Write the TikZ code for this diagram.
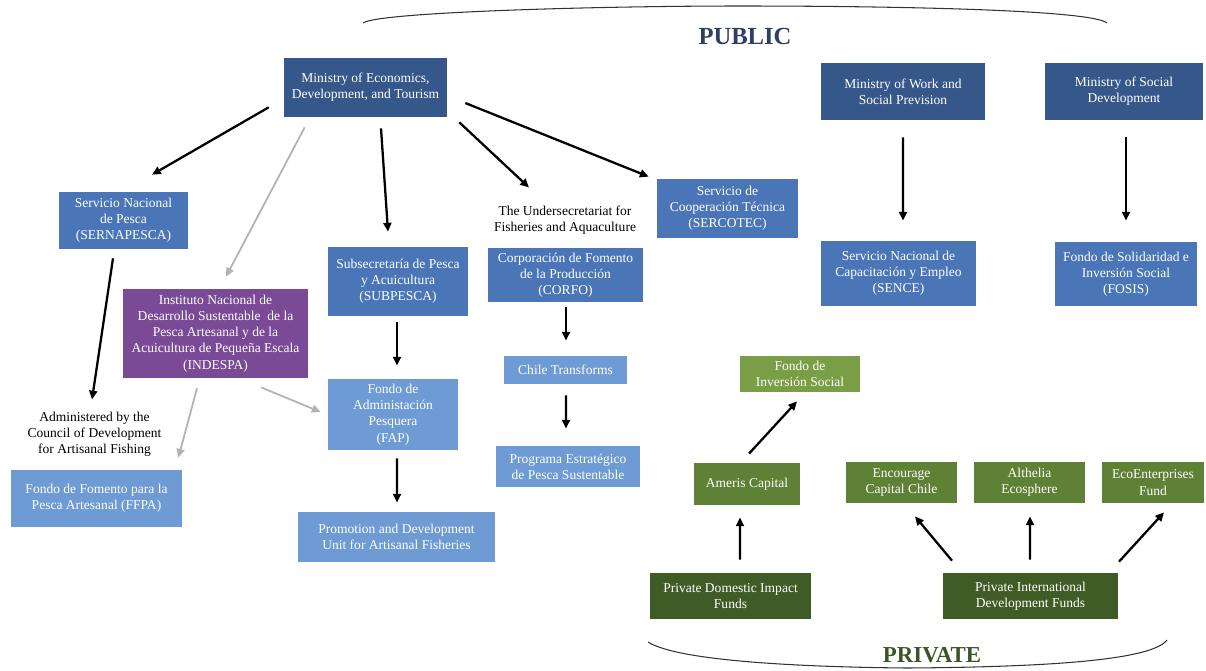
\documentclass[tikz,border=0pt]{standalone}
\usepackage{fontspec}
\setmainfont{Liberation Serif}
\usetikzlibrary{arrows.meta,calc}
\definecolor{navy}{HTML}{36578A}
\definecolor{midblue}{HTML}{4A76B8}
\definecolor{lightblue}{HTML}{6E9BD3}
\definecolor{indespapurple}{HTML}{7A4A97}
\definecolor{lightgreen}{HTML}{7A9E45}
\definecolor{midgreen}{HTML}{5E8136}
\definecolor{darkgreen}{HTML}{405C26}
\definecolor{publictext}{HTML}{2E3F66}
\definecolor{privatetext}{HTML}{3D5426}
\begin{document}
\begin{tikzpicture}[x=0.02cm, y=-0.02cm, font=\fontsize{7.7}{9.2}\selectfont]
	\tikzstyle{block} = [rectangle,align=center,text=white,inner sep=1pt]
	\tikzstyle{arr} = [-{Triangle[length=5pt,width=4.5pt]},line width=1.3pt]
	\tikzstyle{grayarr} = [arr,line width=1pt,draw=gray!60]
	\useasboundingbox (0,0) rectangle (1206,670);
	% public side
	\node[block,fill=navy,minimum width=3.26cm,minimum height=1.18cm](Economy)at(365.5,87.5){Ministry of Economics,\\Development, and Tourism};
	\node[block,fill=navy,minimum width=3.28cm,minimum height=1.16cm](Work)at(903,91.5){Ministry of Work and\\Social Prevision};
	\node[block,fill=navy,minimum width=3.16cm,minimum height=1.16cm](Social)at(1124,91.5){Ministry of Social\\Development};
	\node[block,fill=midblue,minimum width=2.58cm,minimum height=1.14cm](Sernapesca)at(123.5,220.5){Servicio Nacional\\de Pesca\\(SERNAPESCA)};
	\node[block,fill=midblue,minimum width=2.8cm,minimum height=1.38cm](Subpesca)at(398,281.5){Subsecretaría de Pesca\\y Acuicultura\\(SUBPESCA)};
	\node[align=center](under)at(565,220){The Undersecretariat for\\Fisheries and Aquaculture};
	\node[block,fill=midblue,minimum width=3.1cm,minimum height=1.08cm](Corfo)at(565.5,275){Corporación de Fomento\\de la Producción\\(CORFO)};
	\node[block,fill=midblue,minimum width=2.82cm,minimum height=1.18cm](Sercotec)at(727.5,208.5){Servicio de\\Cooperación Técnica\\(SERCOTEC)};
	\node[block,fill=midblue,minimum width=3.1cm,minimum height=1.3cm](Sence)at(898.5,273.5){Servicio Nacional de\\Capacitación y Empleo\\(SENCE)};
	\node[block,fill=midblue,minimum width=2.84cm,minimum height=1.28cm](Fosis)at(1126,274){Fondo de Solidaridad e\\Inversión Social\\(FOSIS)};
	\node[block,fill=indespapurple,minimum width=3.7cm,minimum height=1.78cm](Indespa)at(215.5,333.5){Instituto Nacional de\\Desarrollo Sustentable\ \ de la\\Pesca Artesanal y de la\\Acuicultura de Pequeña Escala\\(INDESPA)};
	\node[block,fill=lightblue,minimum width=2.6cm,minimum height=1.42cm](Fap)at(393,414.5){Fondo de\\Administación\\Pesquera\\(FAP)};
	\node[block,fill=lightblue,minimum width=3.94cm,minimum height=1cm](Promotion)at(396.5,537){Promotion and Development\\Unit for Artisanal Fisheries};
	\node[align=center](admin)at(94.5,434){Administered by the\\Council of Development\\for Artisanal Fishing};
	\node[block,fill=lightblue,minimum width=3.42cm,minimum height=1.14cm](Ffpa)at(96.5,498.5){Fondo de Fomento para la\\Pesca Artesanal (FFPA)};
	\node[block,fill=lightblue,minimum width=2.46cm,minimum height=0.56cm](Chile)at(565.5,370){Chile Transforms};
	\node[block,fill=lightblue,minimum width=2.88cm,minimum height=0.82cm](Programa)at(568,466.5){Programa Estratégico\\de Pesca Sustentable};
	% private side
	\node[block,fill=lightgreen,minimum width=2.4cm,minimum height=0.72cm](Fis)at(800,374){Fondo de\\Inversión Social};
	\node[block,fill=midgreen,minimum width=2.12cm,minimum height=0.84cm](Ameris)at(747,484){Ameris Capital};
	\node[block,fill=midgreen,minimum width=2.22cm,minimum height=0.82cm](Encourage)at(901.5,482.5){Encourage\\Capital Chile};
	\node[block,fill=midgreen,minimum width=2.22cm,minimum height=0.82cm](Althelia)at(1029.5,482.5){Althelia\\Ecosphere};
	\node[block,fill=midgreen,minimum width=2.04cm,minimum height=0.82cm](Eco)at(1153,482.5){EcoEnterprises\\Fund};
	\node[block,fill=darkgreen,minimum width=3.22cm,minimum height=0.92cm](Domestic)at(730.5,596){Private Domestic Impact\\Funds};
	\node[block,fill=darkgreen,minimum width=3.5cm,minimum height=0.92cm](International)at(1030.5,596){Private International\\Development Funds};
	% headings and braces
	\node[font=\fontsize{14}{16}\bfseries\selectfont,text=publictext](public)at(745,36){PUBLIC};
	\node[font=\fontsize{13}{15}\bfseries\selectfont,text=privatetext](private)at(932,655){PRIVATE};
	\draw[gray!40!black,line width=0.6pt] (363,23) .. controls (378,12) and (600,6) .. (740,6) .. controls (900,6) and (1092,10) .. (1107,23);
	\draw[gray!40!black,line width=0.6pt] (648,642) .. controls (678,661) and (800,667) .. (907,668) .. controls (1050,667) and (1152,660) .. (1167,640);
	% connectors
	\draw[arr] ($(Economy.south west)+(-15,-10)$) -- ($(Sernapesca.north)+(28.5,-17)$);
	\draw[grayarr] ($(Economy.south west)+(21,10)$) -- ($(Indespa.north)+(10.5,-12)$);
	\draw[arr] ($(Economy.south)+(15.5,11)$) -- ($(Subpesca.north)+(-10,-15)$);
	\draw[arr] ($(Economy.south east)+(12,5)$) -- ($(under.north)+(-36,-12)$);
	\draw[arr] ($(Economy.east)+(18,15.5)$) -- ($(Sercotec.north west)+(-8,-2)$);
	\draw[arr] ($(Work.south)+(0,16.5)$) -- ($(Sence.north)+(4.5,-20)$);
	\draw[arr] ($(Social.south)+(2,16.5)$) -- ($(Fosis.north)+(0,-21)$);
	\draw[arr] ($(Sernapesca.south)+(-10.5,9)$) -- ($(admin.north)+(-2.5,-6)$);
	\draw[grayarr] ($(Indespa.south)+(-18.5,10)$) -- ($(Ffpa.north east)+(-4,-12)$);
	\draw[grayarr] ($(Indespa.south)+(45.5,9)$) -- ($(Fap.west)+(-7,-2.5)$);
	\draw[arr] ($(Subpesca.south)+(-1,6)$) -- ($(Fap.north)+(4,-13)$);
	\draw[arr] ($(Fap.south)+(4,8)$) -- ($(Promotion.north)+(0.5,-9)$);
	\draw[arr] ($(Corfo.south)+(0.5,5)$) -- ($(Chile.north)+(0.5,-15)$);
	\draw[arr] ($(Chile.south)+(0.5,11)$) -- ($(Programa.north)+(-2,-17)$);
	\draw[arr] ($(Ameris.north)+(2,-9)$) -- ($(Fis.south)+(-3,9)$);
	\draw[arr] ($(Domestic.north)+(9.5,-13)$) -- ($(Ameris.south)+(-7,12)$);
	\draw[arr] ($(International.north)+(-78.5,-12)$) -- ($(Encourage.south)+(13.5,13)$);
	\draw[arr] ($(International.north)+(-0.5,-13)$) -- ($(Althelia.south)+(0.5,13)$);
	\draw[arr] ($(International.north)+(88.5,-11)$) -- ($(Eco.south)+(11,9)$);
\end{tikzpicture}
\end{document}
